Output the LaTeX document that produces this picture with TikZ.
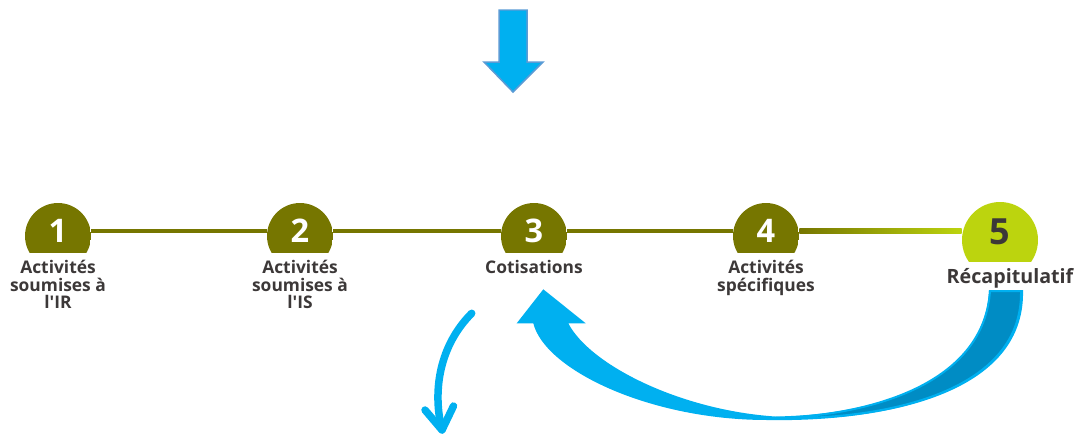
\documentclass[tikz,border=0pt]{standalone}
\usepackage{fontspec}
\setmainfont{Open Sans}
\usetikzlibrary{arrows.meta,positioning}
\definecolor{stepolive}{RGB}{118,118,0}
\definecolor{steplime}{RGB}{188,212,14}
\definecolor{labelgray}{RGB}{60,56,56}
\definecolor{flowblue}{RGB}{0,176,240}
\definecolor{flowdark}{RGB}{0,140,196}
\definecolor{flowedge}{RGB}{91,155,213}

\begin{document}
\begin{tikzpicture}
      [x=0.02cm, y=-0.02cm,
      stage/.style={circle, minimum size=1.32cm, inner sep=0pt,
        path picture={\fill[#1] (path picture bounding box.north west) rectangle ([yshift=0.32cm]path picture bounding box.south east);}},
      stage num/.style={text=white, font=\bfseries\fontsize{18.5}{20}\selectfont, yshift=0.1cm, inner sep=0pt},
      track/.style={draw=stepolive, line width=0.095cm},
      stage label/.style={align=center, anchor=north, inner sep=0pt, text=labelgray, font=\bfseries\fontsize{9.9}{9.9}\selectfont},
      ]
      \useasboundingbox (0,0) rectangle (1082,436);

      % steps
      \node[stage=stepolive, label={[stage num]center:1}] (c1) at (58,236) {};
      \node[stage=stepolive, label={[stage num]center:2}] (c2) at (300,236) {};
      \node[stage=stepolive, label={[stage num]center:3}] (c3) at (534,236) {};
      \node[stage=stepolive, label={[stage num]center:4}] (c4) at (766,236) {};
      \node[stage=steplime, minimum size=1.52cm,
        label={[stage num, text=labelgray, font=\bfseries\fontsize{20.5}{22}\selectfont, yshift=0.06cm]center:5}] (c5) at (1000,240) {};

      \draw[track] ([yshift=0.1cm]c1.east) -- ([yshift=0.1cm]c2.west);
      \draw[track] ([yshift=0.1cm]c2.east) -- ([yshift=0.1cm]c3.west);
      \draw[track] ([yshift=0.1cm]c3.east) -- ([yshift=0.1cm]c4.west);
      \shade[left color=stepolive, right color=steplime] ([yshift=0.148cm]c4.east) rectangle ([yshift=0.132cm]c5.west);

      \node[stage label] (l1) at (58,260) {Activités\\soumises à\\l\textquotesingle IR};
      \node[stage label] (l2) at (300,260) {Activités\\soumises à\\l\textquotesingle IS};
      \node[stage label] (l3) at (534,260) {Cotisations};
      \node[stage label] (l4) at (766,260) {Activités\\spécifiques};
      \node[stage label, font=\bfseries\fontsize{11.2}{12}\selectfont] (l5) at (1010,268) {Récapitulatif};

      % arrow from above
      \filldraw[fill=flowblue, draw=flowedge, line width=0.03cm]
        (499,10) -- (527,10) -- (527,62) -- (543,62) -- (513,92) -- (484,62) -- (499,62) -- cycle;

      % curved arrow back to step 3
      \fill[flowblue] (516.7,323.3) -- (533.3,323.3)
        .. controls (545,370) and (650,420) .. (767,420)
        .. controls (870,422) and (1026,400) .. (1023,290) -- (989,290)
        .. controls (985,380) and (880,415) .. (775,416.5)
        .. controls (680,410) and (590,365) .. (568.3,323.3)
        -- (585.7,323.3) -- (543.3,289.3) -- cycle;
      \filldraw[fill=flowdark, draw=flowblue, line width=0.04cm] (990,291) -- (1021,291)
        .. controls (1023,398) and (870,420) .. (780,418)
        .. controls (880,414) and (984,380) .. (990,291) -- cycle;

      % arrow going down
      \coordinate (out start) at (471.7,313.3);
      \coordinate (out end) at (442,430);
      \coordinate (barb left) at (425,410);
      \coordinate (barb right) at (453.5,406);
      \draw[flowblue, line width=0.15cm, line cap=round, line join=round]
        (out start) .. controls (440,345) and (432,390) .. (out end);
      \draw[flowblue, line width=0.15cm, line cap=round, line join=round]
        (barb left) -- (out end) -- (barb right);
\end{tikzpicture}
\end{document}
